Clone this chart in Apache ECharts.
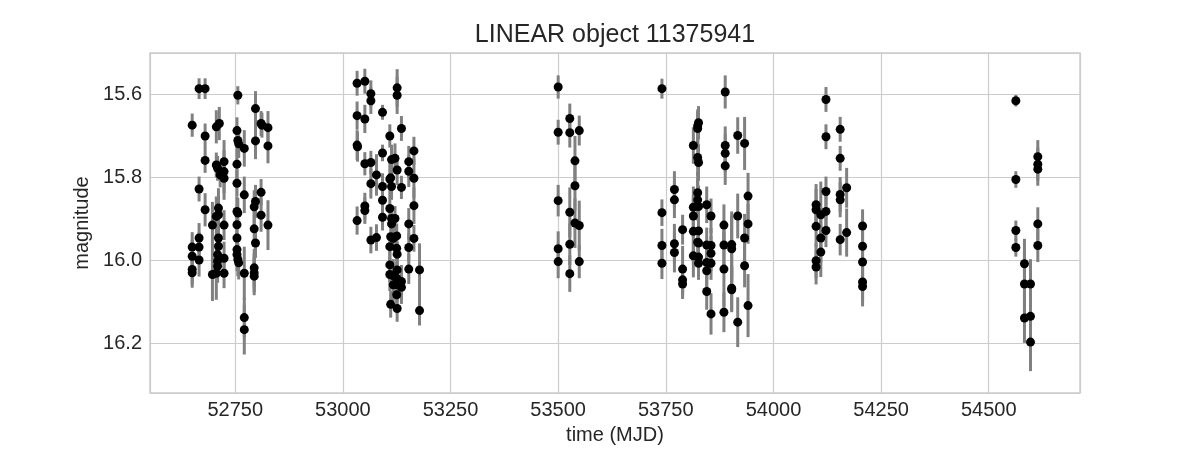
<!DOCTYPE html>
<html>
<head>
<meta charset="utf-8">
<title>LINEAR object 11375941</title>
<script src="https://cdn.jsdelivr.net/npm/echarts@6/dist/echarts.min.js"></script>
<style>
    html, body { margin: 0; padding: 0; background: #ffffff; }
    #chart { width: 1200px; height: 450px; }
</style>
</head>
<body>
<div id="chart"></div>
<script>
    // observation times (MJD), one line per observing season
    var mjd = [
        52666, 52680, 52756, 52650, 52680, 52706, 52713, 52797, 52810, 52812,
        52826, 52754, 52756, 52758, 52771, 52797, 52826, 52680, 52706, 52709,
        52724, 52724, 52724, 52715, 52754, 52754, 52771, 52810, 52666, 52680,
        52711, 52711, 52706, 52754, 52756, 52797, 52794, 52810, 52826, 52697,
        52724, 52754, 52794, 52666, 52650, 52666, 52711, 52711, 52754, 52797,
        52650, 52666, 52709, 52709, 52709, 52724, 52754, 52754, 52756, 52758,
        52650, 52650, 52697, 52706, 52724, 52771, 52794, 52794, 52794, 52771, 52771,

        53033, 53051, 53065, 53065, 53126, 53126, 53033, 53051, 53092, 53136,
        53109, 53033, 53034, 53092, 53165, 53051, 53065, 53078, 53113, 53121,
        53126, 53153, 53153, 53111, 53109, 53165, 53065, 53092, 53113, 53136,
        53092, 53051, 53051, 53033, 53109, 53092, 53113, 53121, 53113, 53153,
        53165, 53065, 53078, 53111, 53125, 53117, 53165, 53109, 53125, 53126,
        53153, 53109, 53109, 53117, 53126, 53125, 53153, 53178, 53117, 53126,
        53136, 53136, 53125, 53111, 53126, 53178,

        53500, 53527, 53500, 53527, 53549, 53539, 53539, 53500, 53527, 53539,
        53549, 53500, 53527, 53500, 53549, 53527,

        53741, 53888, 53826, 53824, 53824, 53814, 53824, 53826, 53917, 53933,
        53888, 53888, 53888, 53770, 53770, 53741, 53824, 53824, 53814, 53826,
        53845, 53855, 53814, 53941, 53917, 53941, 53789, 53814, 53826, 53885,
        53933, 53741, 53770, 53770, 53824, 53826, 53845, 53855, 53885, 53903,
        53903, 53855, 53814, 53826, 53741, 53826, 53845, 53855, 53845, 53885,
        53933, 53789, 53789, 53789, 53903, 53903, 53845, 53855, 53885, 53917, 53941,

        54122, 54122, 54155, 54155, 54122, 54155, 54155, 54170, 54099, 54099,
        54110, 54122, 54099, 54122, 54110, 54110, 54170, 54155, 54207, 54207,
        54207, 54099, 54099, 54207, 54207,

        54563, 54563, 54614, 54614, 54614, 54563, 54563, 54614, 54614, 54583,
        54583, 54597, 54583, 54597, 54597
    ];

    // magnitudes
    var mag = [
        15.586, 15.586, 15.602, 15.674, 15.700, 15.678, 15.670, 15.634, 15.670, 15.674,
        15.680, 15.687, 15.711, 15.719, 15.730, 15.712, 15.724, 15.759, 15.770, 15.778,
        15.762, 15.786, 15.802, 15.794, 15.768, 15.814, 15.842, 15.836, 15.828, 15.878,
        15.874, 15.890, 15.894, 15.882, 15.886, 15.858, 15.871, 15.891, 15.915, 15.915,
        15.915, 15.914, 15.924, 15.946, 15.968, 15.968, 15.946, 15.966, 15.946, 15.958,
        15.990, 15.999, 15.986, 16.002, 16.014, 15.995, 15.974, 15.986, 15.998, 16.006,
        16.022, 16.030, 16.034, 16.031, 16.031, 16.031, 16.018, 16.030, 16.038, 16.138, 16.167,

        15.573, 15.568, 15.598, 15.615, 15.584, 15.602, 15.651, 15.659, 15.643, 15.682,
        15.700, 15.722, 15.726, 15.741, 15.736, 15.767, 15.764, 15.794, 15.757, 15.754,
        15.782, 15.762, 15.785, 15.801, 15.804, 15.802, 15.815, 15.822, 15.822, 15.824,
        15.855, 15.869, 15.880, 15.904, 15.875, 15.896, 15.899, 15.899, 15.912, 15.912,
        15.868, 15.951, 15.945, 15.943, 15.941, 15.947, 15.947, 15.967, 15.971, 15.985,
        15.969, 16.011, 16.034, 16.037, 16.023, 16.043, 16.021, 16.023, 16.059, 16.059,
        16.051, 16.065, 16.083, 16.106, 16.116, 16.121,

        15.582, 15.658, 15.691, 15.692, 15.687, 15.760, 15.820, 15.856, 15.884, 15.910,
        15.916, 15.972, 15.961, 16.003, 16.003, 16.032,

        15.586, 15.594, 15.668, 15.676, 15.682, 15.723, 15.752, 15.764, 15.699, 15.718,
        15.723, 15.742, 15.772, 15.829, 15.854, 15.885, 15.837, 15.854, 15.872, 15.870,
        15.866, 15.893, 15.893, 15.845, 15.893, 15.912, 15.926, 15.930, 15.929, 15.915,
        15.946, 15.964, 15.960, 15.981, 15.956, 15.958, 15.963, 15.964, 15.963, 15.962,
        15.972, 15.983, 15.989, 15.992, 16.007, 16.007, 16.005, 16.007, 16.025, 16.021,
        16.013, 16.021, 16.047, 16.057, 16.067, 16.071, 16.075, 16.129, 16.125, 16.149, 16.109,

        15.612, 15.702, 15.684, 15.754, 15.834, 15.841, 15.854, 15.825, 15.866, 15.878,
        15.890, 15.882, 15.918, 15.928, 15.946, 15.980, 15.933, 15.950, 15.917, 15.966,
        16.004, 16.001, 16.016, 16.052, 16.063,

        15.615, 15.805, 15.750, 15.768, 15.780, 15.928, 15.969, 15.912, 15.964, 16.008,
        16.057, 16.057, 16.139, 16.135, 16.197
    ];

    // magnitude errors
    var magErr = [
        0.025, 0.025, 0.022, 0.028, 0.030, 0.040, 0.040, 0.042, 0.030, 0.030,
        0.040, 0.032, 0.034, 0.034, 0.044, 0.044, 0.042, 0.030, 0.030, 0.030,
        0.052, 0.052, 0.052, 0.030, 0.042, 0.032, 0.044, 0.032, 0.030, 0.040,
        0.048, 0.048, 0.048, 0.036, 0.036, 0.040, 0.040, 0.040, 0.060, 0.056,
        0.036, 0.028, 0.044, 0.036, 0.036, 0.036, 0.036, 0.036, 0.030, 0.036,
        0.040, 0.040, 0.040, 0.040, 0.040, 0.040, 0.040, 0.040, 0.040, 0.040,
        0.036, 0.036, 0.064, 0.064, 0.036, 0.064, 0.046, 0.046, 0.046, 0.048, 0.060,

        0.030, 0.030, 0.032, 0.032, 0.045, 0.045, 0.034, 0.034, 0.018, 0.030,
        0.028, 0.036, 0.036, 0.020, 0.034, 0.028, 0.028, 0.050, 0.036, 0.036,
        0.036, 0.038, 0.038, 0.044, 0.044, 0.048, 0.036, 0.032, 0.032, 0.028,
        0.024, 0.032, 0.032, 0.034, 0.028, 0.032, 0.030, 0.030, 0.030, 0.038,
        0.044, 0.032, 0.032, 0.030, 0.030, 0.030, 0.032, 0.030, 0.030, 0.030,
        0.034, 0.040, 0.040, 0.040, 0.040, 0.040, 0.036, 0.064, 0.040, 0.040,
        0.040, 0.040, 0.038, 0.032, 0.032, 0.036,

        0.028, 0.036, 0.030, 0.036, 0.036, 0.060, 0.060, 0.038, 0.060, 0.060,
        0.060, 0.042, 0.050, 0.040, 0.040, 0.044,

        0.024, 0.040, 0.040, 0.040, 0.040, 0.044, 0.044, 0.044, 0.044, 0.064,
        0.046, 0.046, 0.046, 0.044, 0.044, 0.032, 0.050, 0.050, 0.050, 0.050,
        0.044, 0.042, 0.050, 0.056, 0.054, 0.048, 0.036, 0.080, 0.080, 0.050,
        0.058, 0.040, 0.048, 0.048, 0.036, 0.036, 0.042, 0.042, 0.050, 0.080,
        0.080, 0.042, 0.052, 0.052, 0.038, 0.040, 0.040, 0.040, 0.040, 0.090,
        0.052, 0.056, 0.036, 0.036, 0.054, 0.054, 0.044, 0.050, 0.048, 0.060, 0.076,

        0.030, 0.030, 0.030, 0.030, 0.036, 0.042, 0.042, 0.048, 0.050, 0.050,
        0.080, 0.050, 0.050, 0.040, 0.060, 0.060, 0.058, 0.038, 0.040, 0.044,
        0.040, 0.042, 0.042, 0.048, 0.048,

        0.014, 0.020, 0.040, 0.040, 0.040, 0.024, 0.022, 0.040, 0.040, 0.060,
        0.080, 0.060, 0.060, 0.070, 0.070
    ];

    var xTickStep = 250;
    var yTickStep = 0.2;

    var font = '"Liberation Sans", Arial, sans-serif';
    var textColor = '#262626';
    var gridColor = '#cccccc';

    var n = Math.min(mjd.length, mag.length, magErr.length);
    var points = [];
    var bars = [];
    for (var i = 0; i < n; i++) {
        points.push([mjd[i], mag[i]]);
        bars.push([mjd[i], mag[i] - magErr[i], mag[i] + magErr[i]]);
    }

    var chart = echarts.init(document.getElementById('chart'));

    var option = {
        backgroundColor: '#ffffff',
        animation: false,
        graphic: [{
            type: 'text',
            x: 615,
            y: 35,
            style: {
                text: 'LINEAR object 11375941',
                align: 'center',
                verticalAlign: 'middle',
                font: '25px ' + font,
                fill: textColor
            }
        }],
        grid: {
            left: 150,
            right: 120,
            top: 53,
            bottom: 56,
            show: true,
            borderColor: gridColor,
            borderWidth: 1.5,
            backgroundColor: 'transparent'
        },
        xAxis: {
            type: 'value',
            min: 52552,
            max: 54712,
            splitNumber: 8,
            minInterval: xTickStep,
            maxInterval: xTickStep,
            name: 'time (MJD)',
            nameLocation: 'middle',
            nameGap: 29,
            nameTextStyle: { fontFamily: font, fontSize: 20, color: textColor },
            axisLine: { show: false },
            axisTick: { show: false },
            axisLabel: {
                showMinLabel: false,
                showMaxLabel: false,
                margin: 7,
                fontFamily: font,
                fontSize: 20,
                color: textColor,
                formatter: function (v) {
                    return Math.abs(v / xTickStep - Math.round(v / xTickStep)) < 1e-6 ? String(v) : '';
                }
            },
            splitLine: { show: true, lineStyle: { color: gridColor, width: 1.2 } }
        },
        yAxis: {
            type: 'value',
            inverse: true,
            min: 15.50,
            max: 16.32,
            splitNumber: 4,
            minInterval: yTickStep,
            maxInterval: yTickStep,
            name: 'magnitude',
            nameLocation: 'middle',
            nameGap: 56,
            nameTextStyle: { fontFamily: font, fontSize: 20, color: textColor },
            axisLine: { show: false },
            axisTick: { show: false },
            axisLabel: {
                showMinLabel: false,
                showMaxLabel: false,
                margin: 8,
                fontFamily: font,
                fontSize: 20,
                color: textColor,
                formatter: function (v) {
                    var k = v / yTickStep;
                    return Math.abs(k - Math.round(k)) < 1e-6 ? v.toFixed(1) : '';
                }
            },
            splitLine: { show: true, lineStyle: { color: gridColor, width: 1.2 } }
        },
        series: [
            {
                type: 'custom',
                name: 'error',
                data: bars,
                encode: { x: 0, y: [1, 2] },
                renderItem: function (params, api) {
                    var top = api.coord([api.value(0), api.value(1)]);
                    var bottom = api.coord([api.value(0), api.value(2)]);
                    return {
                        type: 'line',
                        shape: { x1: top[0], y1: top[1], x2: bottom[0], y2: bottom[1] },
                        style: { stroke: '#808080', lineWidth: 3 }
                    };
                },
                z: 2
            },
            {
                type: 'scatter',
                name: 'mag',
                data: points,
                symbol: 'circle',
                symbolSize: 9,
                itemStyle: { color: '#000000', opacity: 1 },
                z: 3
            }
        ]
    };

    chart.setOption(option);
</script>
</body>
</html>
